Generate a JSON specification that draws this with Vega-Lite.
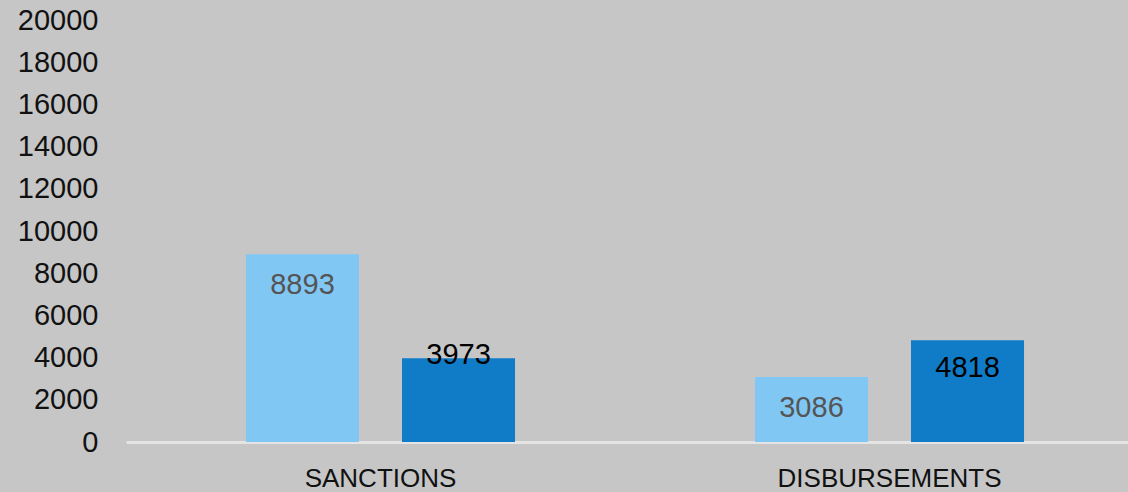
{
  "$schema": "https://vega.github.io/schema/vega-lite/v6.json",
  "autosize": "none",
  "width": 1002,
  "height": 422,
  "padding": {"left": 126, "top": 20, "right": 0, "bottom": 50},
  "background": "#c6c6c6",
  "config": {
    "view": {"stroke": null},
    "font": "Liberation Sans"
  },
  "data": {
    "values": [
      {"category": "SANCTIONS", "series": "Series 1", "value": 8893},
      {"category": "SANCTIONS", "series": "Series 2", "value": 3973},
      {"category": "DISBURSEMENTS", "series": "Series 1", "value": 3086},
      {"category": "DISBURSEMENTS", "series": "Series 2", "value": 4818}
    ]
  },
  "encoding": {
    "x": {
      "field": "category",
      "type": "nominal",
      "sort": ["SANCTIONS", "DISBURSEMENTS"],
      "scale": {"range": [0, 1018], "paddingInner": 0, "paddingOuter": 0},
      "axis": {
        "title": null,
        "labelAngle": 0,
        "labelFontSize": 26,
        "labelLimit": 0,
        "labelColor": "#111111",
        "labelPadding": 23,
        "ticks": false,
        "domainColor": "#e4e4e4",
        "domainWidth": 3
      }
    },
    "xOffset": {
      "field": "series",
      "type": "nominal",
      "scale": {"paddingInner": 0.2756, "paddingOuter": 0.769}
    },
    "y": {
      "field": "value",
      "type": "quantitative",
      "scale": {"domain": [0, 20000], "nice": false},
      "axis": {
        "title": null,
        "values": [0, 2000, 4000, 6000, 8000, 10000, 12000, 14000, 16000, 18000, 20000],
        "grid": false,
        "domain": false,
        "ticks": false,
        "labelFontSize": 29,
        "labelColor": "#111111",
        "labelPadding": 28,
        "format": "d"
      }
    }
  },
  "layer": [
    {
      "mark": {"type": "bar"},
      "encoding": {
        "color": {
          "field": "series",
          "type": "nominal",
          "scale": {"domain": ["Series 1", "Series 2"], "range": ["#81c7f4", "#107cc7"]},
          "legend": null
        }
      }
    },
    {
      "transform": [{"filter": "datum.series === 'Series 1'"}],
      "mark": {"type": "text", "baseline": "middle", "dy": 31, "fontSize": 29, "color": "#555555"},
      "encoding": {"text": {"field": "value", "type": "quantitative", "format": "d"}}
    },
    {
      "transform": [{"filter": "datum.series === 'Series 2' && datum.category === 'DISBURSEMENTS'"}],
      "mark": {"type": "text", "baseline": "middle", "dy": 28, "fontSize": 29, "color": "#000000"},
      "encoding": {"text": {"field": "value", "type": "quantitative", "format": "d"}}
    },
    {
      "transform": [{"filter": "datum.series === 'Series 2' && datum.category === 'SANCTIONS'"}],
      "mark": {"type": "text", "baseline": "middle", "dy": -3, "fontSize": 29, "color": "#000000"},
      "encoding": {"text": {"field": "value", "type": "quantitative", "format": "d"}}
    }
  ]
}
